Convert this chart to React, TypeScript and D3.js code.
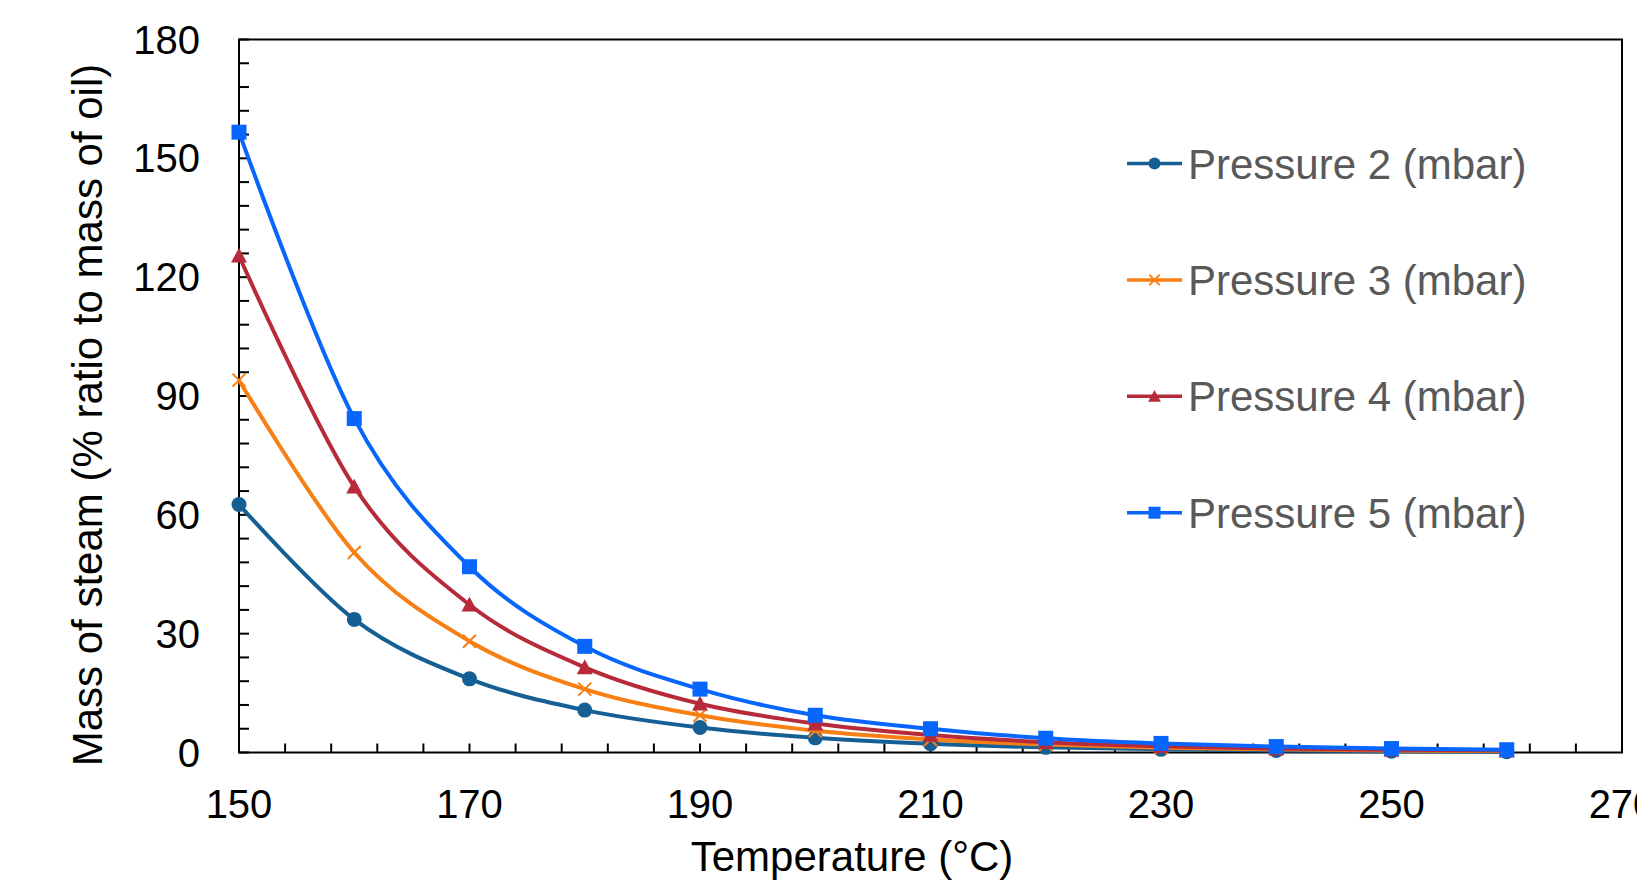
import * as d3 from 'd3'

const temps = [150, 160, 170, 180, 190, 200, 210, 220, 230, 240, 250, 260]
const pressure2 = [62.6, 33.6, 18.6, 10.7, 6.3, 3.7, 2.2, 1.3, 0.8, 0.5, 0.3, 0.2]
const pressure3 = [94.0, 50.5, 28.1, 16.0, 9.4, 5.5, 3.3, 2.0, 1.2, 0.8, 0.5, 0.4]
const pressure4 = [125.4, 67.1, 37.3, 21.5, 12.3, 7.3, 4.4, 2.6, 1.6, 1.0, 0.7, 0.5]
const pressure5 = [156.6, 84.3, 46.9, 26.8, 16.0, 9.4, 6.0, 3.6, 2.3, 1.5, 1.0, 0.7]

const seriesNames = [
    'Pressure 2 (mbar)',
    'Pressure 3 (mbar)',
    'Pressure 4 (mbar)',
    'Pressure 5 (mbar)'
]
const xTicks = [150, 170, 190, 210, 230, 250, 270]
const yTicks = [0, 30, 60, 90, 120, 150, 180]

const W = 1637
const H = 881
const margin = { left: 239, right: 15, top: 39.5, bottom: 128.5 }
const font = 'Arial, "Liberation Sans", sans-serif'

const styles = [
    { color: '#165f94', marker: 'circle' },
    { color: '#f77f14', marker: 'x' },
    { color: '#b72a3a', marker: 'triangle' },
    { color: '#0866fc', marker: 'square' }
]

const Marker = ({ type, x, y, color, s = 1 }) => {
    if (type === 'circle') return <circle cx={x} cy={y} r={7.5 * s} fill={color} />
    if (type === 'square')
        return <rect x={x - 7.5 * s} y={y - 7.5 * s} width={15 * s} height={15 * s} fill={color} />
    if (type === 'triangle') {
        const a = 8 * s
        return (
            <polygon
                points={`${x},${y - a} ${x + a},${y + a * 0.85} ${x - a},${y + a * 0.85}`}
                fill={color}
            />
        )
    }
    const a = 6.5 * s
    return (
        <path
            d={`M${x - a},${y - a}L${x + a},${y + a}M${x - a},${y + a}L${x + a},${y - a}`}
            stroke={color}
            strokeWidth={2}
            fill="none"
        />
    )
}

export default function App() {
    const x = d3.scaleLinear().domain([150, 270]).range([margin.left, W - margin.right])
    const y = d3.scaleLinear().domain([0, 180]).range([H - margin.bottom, margin.top])
    const series = [pressure2, pressure3, pressure4, pressure5]
    const line = d3
        .line<number>()
        .x((_, i) => x(temps[i]))
        .y((d) => y(d))
        .curve(d3.curveCardinal.tension(0))

    const xMinor = d3.range(150, 270.1, 4)
    const yMinor = d3.range(0, 180.1, 6)
    const [x0, x1] = x.range()
    const [y0, y1] = y.range()

    return (
        <svg
            width={W}
            height={H}
            style={{ position: 'absolute', left: 0, top: 0, background: '#fff' }}
            fontFamily={font}
        >
            {/* frame */}
            <rect x={x0} y={y1} width={x1 - x0} height={y0 - y1} fill="none" stroke="#000" strokeWidth={2} />
            {xMinor.map((t) => (
                <line key={'xt' + t} x1={x(t)} x2={x(t)} y1={y0} y2={y0 - 9} stroke="#000" strokeWidth={2} />
            ))}
            {yMinor.map((t) => (
                <line key={'yt' + t} x1={x0} x2={x0 + 10} y1={y(t)} y2={y(t)} stroke="#000" strokeWidth={2} />
            ))}
            {xTicks.map((t) => (
                <text key={'xl' + t} x={x(t)} y={818} fontSize={40} textAnchor="middle" fill="#000">
                    {t}
                </text>
            ))}
            {yTicks.map((t) => (
                <text key={'yl' + t} x={200} y={y(t) + 14} fontSize={40} textAnchor="end" fill="#000">
                    {t}
                </text>
            ))}
            <text x={852} y={871} fontSize={42} textAnchor="middle" fill="#000">
                Temperature (°C)
            </text>
            <text
                transform={`translate(102,415) rotate(-90)`}
                fontSize={42}
                textAnchor="middle"
                fill="#000"
            >
                Mass of steam (% ratio to mass of oil)
            </text>

            {series.map((vals, k) => (
                <g key={'s' + k}>
                    <path d={line(vals)} fill="none" stroke={styles[k].color} strokeWidth={4} />
                    {vals.map((v, i) => (
                        <Marker key={i} type={styles[k].marker} x={x(temps[i])} y={y(v)} color={styles[k].color} />
                    ))}
                </g>
            ))}

            {/* legend */}
            {seriesNames.map((name, k) => {
                const ly = 163.5 + k * 116.4
                return (
                    <g key={'lg' + k}>
                        <line x1={1127} x2={1182} y1={ly} y2={ly} stroke={styles[k].color} strokeWidth={3.5} />
                        <Marker type={styles[k].marker} x={1154.5} y={ly} color={styles[k].color} s={0.8} />
                        <text x={1188} y={ly + 15} fontSize={42} fill="#595959">
                            {name}
                        </text>
                    </g>
                )
            })}
        </svg>
    )
}
